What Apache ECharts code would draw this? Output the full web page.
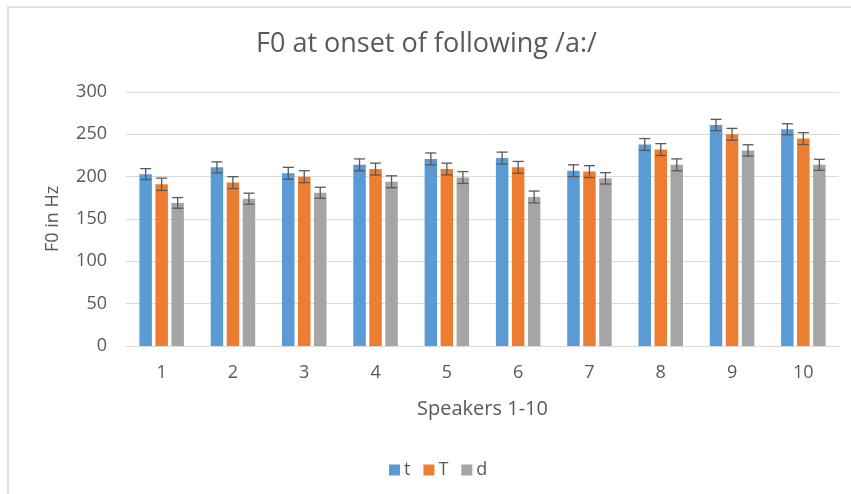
<!DOCTYPE html>
<html>
<head>
<meta charset="utf-8">
<script src="https://cdn.jsdelivr.net/npm/echarts@6/dist/echarts.min.js"></script>
<style>
  html, body { margin: 0; padding: 0; background: #fff; }
  #chart { width: 851px; height: 494px; }
</style>
</head>
<body>
<div id="chart"></div>
<script>
// speakers on the x axis
const speakers = ["1", "2", "3", "4", "5", "6", "7", "8", "9", "10"];

// mean F0 (Hz) per speaker
const tValues = [203, 211, 204, 214, 221, 222, 207, 238, 261, 256];
const TValues = [191, 193, 200, 209, 209, 211, 206, 232, 250, 245];
const dValues = [169, 174, 181, 194, 199, 176, 198, 214, 231, 214];

// error bar half widths
const tErr = [6.5, 6.5, 7, 7, 7, 7, 7, 7, 6.7, 6.5];
const TErr = [7.3, 7, 7, 7, 7, 7, 7, 7, 7, 7];
const dErr = [6.3, 6.5, 6.5, 7, 7, 7, 6.7, 7, 6.7, 6.5];

const colors = ["#5B9BD5", "#ED7D31", "#A5A5A5"];
const textColor = "#595959";
const font = "Open Sans";

const barW = 12.5;
const step = 16; // distance between bar centres in a group

// build [index, low, high] rows for the error bars
function errRows(vals, errs) {
  return vals.map((v, i) => [i, v - errs[i], v + errs[i]]);
}

// draws one error bar with caps, shifted to sit over its bar
function errorBarRenderer(shift) {
  return function (params, api) {
    const lo = api.coord([api.value(0), api.value(1)]);
    const hi = api.coord([api.value(0), api.value(2)]);
    const x = lo[0] + shift;
    const cap = 5.5;
    const style = { stroke: "#595959", lineWidth: 1.3 };
    return {
      type: "group",
      children: [
        { type: "line", shape: { x1: x, y1: hi[1], x2: x, y2: lo[1] }, style: style },
        { type: "line", shape: { x1: x - cap, y1: hi[1], x2: x + cap, y2: hi[1] }, style: style },
        { type: "line", shape: { x1: x - cap, y1: lo[1], x2: x + cap, y2: lo[1] }, style: style }
      ]
    };
  };
}

const chart = echarts.init(document.getElementById("chart"));

const option = {
  animation: false,
  backgroundColor: "#fff",
  graphic: [
    {
      type: "rect",
      shape: { x: 8, y: 7, width: 900, height: 600 },
      style: { fill: "none", stroke: "#d9d9d9", lineWidth: 1.5 },
      silent: true,
      z: -10
    }
  ],
  title: {
    text: "F0 at onset of following /a:/",
    left: 251,
    top: 26,
    textStyle: {
      fontFamily: font,
      fontWeight: "normal",
      fontSize: 27,
      color: textColor
    }
  },
  legend: {
    data: ["t", "T", "d"],
    left: 384,
    top: 456,
    itemWidth: 11,
    itemHeight: 11,
    itemGap: 13,
    icon: "rect",
    textStyle: { fontFamily: font, fontSize: 18, color: textColor, padding: [0, 0, 0, -1] }
  },
  grid: { left: 126, right: 12, top: 92, bottom: 148 },
  xAxis: {
    type: "category",
    data: speakers,
    name: "Speakers 1-10",
    nameLocation: "middle",
    nameGap: 53,
    nameTextStyle: { fontFamily: font, fontSize: 20, color: textColor },
    axisLine: { lineStyle: { color: "#d9d9d9", width: 1 } },
    axisTick: { show: false },
    axisLabel: { fontFamily: font, fontSize: 18, color: textColor, margin: 18 }
  },
  yAxis: {
    type: "value",
    min: 0,
    max: 300,
    interval: 50,
    name: "F0 in Hz",
    nameLocation: "middle",
    nameGap: 64,
    nameTextStyle: { fontFamily: font, fontSize: 18, color: textColor },
    axisLine: { show: false },
    axisTick: { show: false },
    axisLabel: { fontFamily: font, fontSize: 18, color: textColor, margin: 19 },
    splitLine: { lineStyle: { color: "#d9d9d9", width: 1 } }
  },
  series: [
    { name: "t", type: "bar", data: tValues, barWidth: barW, barGap: "28%", itemStyle: { color: colors[0] } },
    { name: "T", type: "bar", data: TValues, barWidth: barW, barGap: "28%", itemStyle: { color: colors[1] } },
    { name: "d", type: "bar", data: dValues, barWidth: barW, barGap: "28%", itemStyle: { color: colors[2] } },
    { type: "custom", renderItem: errorBarRenderer(-step), data: errRows(tValues, tErr), encode: { x: 0, y: [1, 2] }, z: 10 },
    { type: "custom", renderItem: errorBarRenderer(0), data: errRows(TValues, TErr), encode: { x: 0, y: [1, 2] }, z: 10 },
    { type: "custom", renderItem: errorBarRenderer(step), data: errRows(dValues, dErr), encode: { x: 0, y: [1, 2] }, z: 10 }
  ]
};

chart.setOption(option);
</script>
</body>
</html>
